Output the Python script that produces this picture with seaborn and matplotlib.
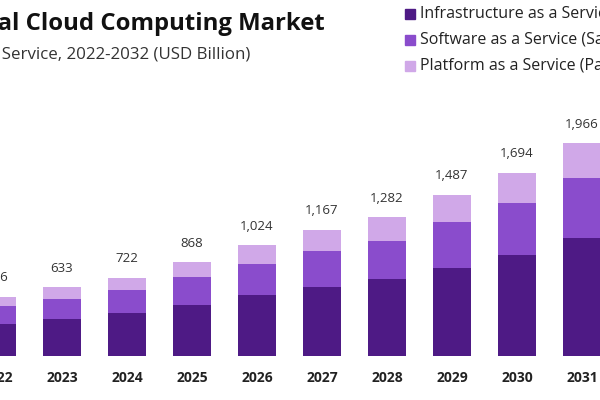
import seaborn as sns
import pandas as pd
import numpy as np
import matplotlib.pyplot as plt

years = ["2022", "2023", "2024", "2025", "2026", "2027", "2028", "2029", "2030", "2031"]
iaas = [300, 346, 397, 475, 560, 636, 709, 815, 933, 1090]
saas = [163, 183, 208, 254, 291, 336, 357, 425, 484, 553]
paas = [83, 104, 117, 139, 173, 195, 216, 247, 277, 323]
series_names = ["Infrastructure as a Service (IaaS)", "Software as a Service (SaaS)",
                "Platform as a Service (PaaS)"]
colors = ["#4e1a85", "#8a4ccc", "#d0a8e8"]

df = pd.DataFrame({"year": years, "iaas": iaas, "saas": saas, "paas": paas})
df["iaas_saas"] = df.iaas + df.saas
df["total"] = df.iaas_saas + df.paas

sns.set_style("white")
plt.rcParams['font.family'] = ['Open Sans', 'DejaVu Sans']

fig = plt.figure(figsize=(6, 4), dpi=100)
# axes run past the figure edges, the chart is cropped like the reference
ax = fig.add_axes([-70 / 600, 0.11, 740 / 600, 0.64])

# stacked look: draw totals first, then smaller sums on top
for col, c in zip(["total", "iaas_saas", "iaas"], colors[::-1]):
    sns.barplot(data=df, x="year", y=col, color=c, width=0.57, ax=ax,
                saturation=1, linewidth=0)

ax.bar_label(ax.containers[0], labels=[f"{v:,.0f}" for v in df.total],
             padding=9, fontsize=9.5, color="#333333")

ax.set_xlim(-67 / 65, -67 / 65 + 740 / 65)
ax.set_ylim(0, 2364)
ax.set_xlabel("")
ax.set_ylabel("")
ax.set_yticks([])
ax.tick_params(axis="x", length=0, pad=11)
for lbl in ax.get_xticklabels():
    lbl.set_fontweight("bold")
    lbl.set_fontsize(10)
    lbl.set_color("#222222")
sns.despine(ax=ax, left=True, bottom=True)

fig.text(325 / 600, 1 - 24 / 400, "Global Cloud Computing Market", ha="right", va="center",
         fontsize=17.2, fontweight="bold", color="#111111")
fig.text(250 / 600, 1 - 55 / 400, "By Service, 2022-2032 (USD Billion)", ha="right", va="center",
         fontsize=12.2, color="#333333")

for i, (name, c) in enumerate(zip(series_names, colors)):
    y = 1 - (14 + 26 * i) / 400
    fig.patches.append(plt.Rectangle((405 / 600, y - 5 / 400), 10 / 600, 10 / 400,
                                     transform=fig.transFigure, color=c, figure=fig))
    fig.text(420 / 600, y, name, ha="left", va="center", fontsize=11.5, color="#222222")

plt.savefig("out.png", dpi=100)
